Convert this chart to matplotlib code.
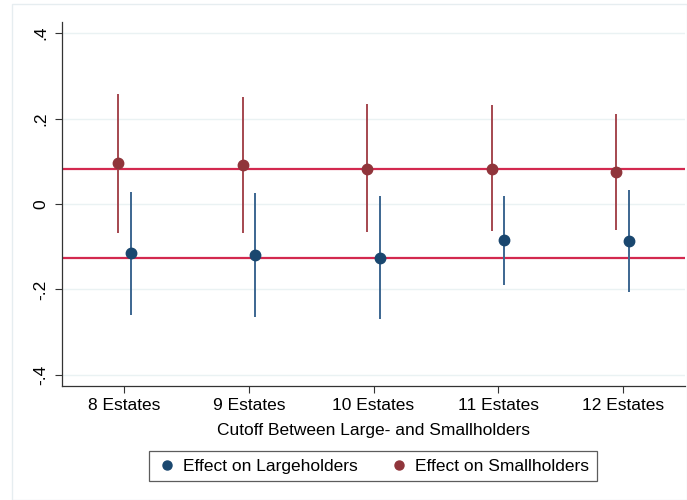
import numpy as np
import matplotlib
matplotlib.use("Agg")
import matplotlib.pyplot as plt
from matplotlib.lines import Line2D
from matplotlib.patches import Rectangle

plt.rcParams['font.family'] = ['Liberation Sans', 'DejaVu Sans']

# data
cutoffs = ["8 Estates", "9 Estates", "10 Estates", "11 Estates", "12 Estates"]
large_est = [-0.115, -0.119, -0.126, -0.085, -0.087]
large_lo = [-0.260, -0.265, -0.270, -0.189, -0.206]
large_hi = [0.029, 0.025, 0.019, 0.018, 0.033]
small_est = [0.095, 0.091, 0.083, 0.083, 0.076]
small_lo = [-0.069, -0.069, -0.066, -0.063, -0.060]
small_hi = [0.257, 0.251, 0.233, 0.232, 0.211]
ref_lines = [0.083, -0.126]
yticks = [-0.4, -0.2, 0.0, 0.2, 0.4]
ytick_labels = ["-.4", "-.2", "0", ".2", ".4"]

navy = "#1a476f"
maroon = "#90353b"
navy_ci = "#3c6690"
maroon_ci = "#a5474f"
hline_col = "#d3294f"
grid_col = "#eaf2f3"

fs = 12.5

fig = plt.figure(figsize=(6.87, 5.0), dpi=100)
ax = fig.add_axes([62 / 687, 1 - 386 / 500, (685 - 62) / 687, (386 - 22) / 500])

# outer frame like Stata graph region
fig.patches.append(Rectangle((12 / 687, 0), 1 - 12 / 687, 1 - 4 / 500,
                             transform=fig.transFigure, fill=False,
                             edgecolor="#e6edf0", linewidth=1.0))

x = np.arange(1, len(cutoffs) + 1)
off = 0.05

for v in yticks:
    ax.axhline(v, color=grid_col, linewidth=1.0, zorder=0)
for v in ref_lines:
    ax.axhline(v, color=hline_col, linewidth=1.6, zorder=1)

ax.vlines(x - off, small_lo, small_hi, color=maroon_ci, linewidth=1.4, zorder=2)
ax.vlines(x + off, large_lo, large_hi, color=navy_ci, linewidth=1.4, zorder=2)
ax.plot(x - off, small_est, "o", color=maroon, markersize=7.5, zorder=3)
ax.plot(x + off, large_est, "o", color=navy, markersize=7.5, zorder=3)

ax.set_xlim(0.5, 5.5)
ax.set_ylim(-0.426, 0.426)
ax.set_xticks(x)
ax.set_xticklabels(cutoffs, fontsize=fs)
ax.set_yticks(yticks)
ax.set_yticklabels(ytick_labels, fontsize=fs, rotation=90, va="center")
ax.tick_params(axis="both", length=5, width=0.8, color="#333333")
ax.tick_params(axis="y", pad=5)
ax.tick_params(axis="x", pad=4)
ax.set_xlabel("Cutoff Between Large- and Smallholders", fontsize=fs, labelpad=7)

for s in ["top", "right"]:
    ax.spines[s].set_visible(False)
for s in ["left", "bottom"]:
    ax.spines[s].set_color("#333333")
    ax.spines[s].set_linewidth(0.9)

handles = [
    Line2D([], [], marker="o", linestyle="none", color=navy, markersize=6.5),
    Line2D([], [], marker="o", linestyle="none", color=maroon, markersize=6.5),
]
leg = fig.legend(handles, ["Effect on Largeholders", "Effect on Smallholders"],
                 loc="center", bbox_to_anchor=(373 / 687, 1 - 466 / 500),
                 ncol=2, fontsize=fs, frameon=True, fancybox=False,
                 edgecolor="#333333", handletextpad=0.3, columnspacing=1.8,
                 borderpad=0.45, handlelength=1.2)
leg.get_frame().set_linewidth(0.9)

fig.savefig("out.png", dpi=100)
